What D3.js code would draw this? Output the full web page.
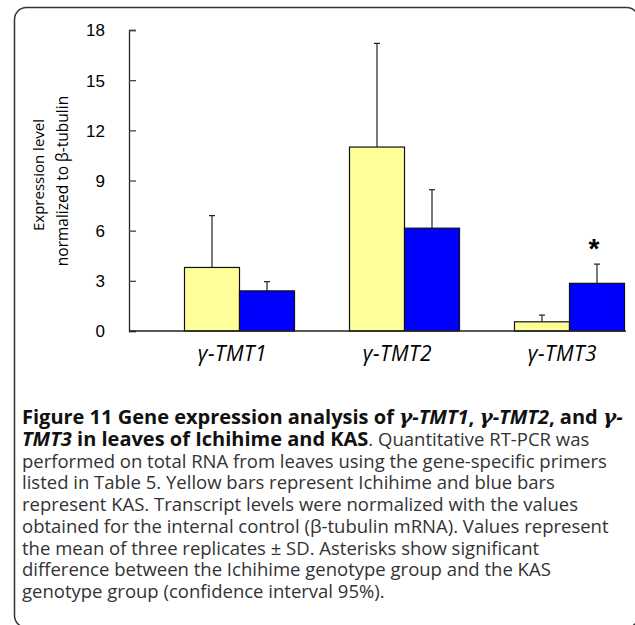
<!DOCTYPE html>
<html>
<head>
<meta charset="utf-8">
<script src="https://cdn.jsdelivr.net/npm/d3@7"></script>
<style>
  body { margin: 0; background: #fff; }
  svg { display: block; }
</style>
</head>
<body>
<div id="chart"></div>
<script>
// data
var genes = ["γ-TMT1", "γ-TMT2", "γ-TMT3"];
var series = ["Ichihime", "KAS"];
var ichihime = [3.8, 11.0, 0.55];
var ichihimeSD = [3.1, 6.2, 0.4];
var kas = [2.4, 6.15, 2.85];
var kasSD = [0.55, 2.3, 1.15];
var significant = [false, false, true];
var yTicks = [0, 3, 6, 9, 12, 15, 18];

var colors = { Ichihime: "#ffff99", KAS: "#0000ff" };

var W = 635, H = 625;

var svg = d3.select("#chart")
  .append("svg")
    .attr("width", W)
    .attr("height", H);

// frame round the figure (right and bottom run off the picture)
svg.append("rect")
  .attr("x", 14.5)
  .attr("y", 7.5)
  .attr("width", 624)
  .attr("height", 620)
  .attr("rx", 12)
  .attr("fill", "none")
  .attr("stroke", "#333")
  .attr("stroke-width", 1.5);

var axisX = 129;

var y = d3.scaleLinear()
  .domain([0, 18])
  .range([331, 30]);

var x0 = d3.scaleBand()
  .domain(genes)
  .range([157, 652]);

var x1 = d3.scaleBand()
  .domain(series)
  .range([0, x0.bandwidth()])
  .paddingOuter(0.5);

var rows = genes.map(function(g, i) {
  return {
    gene: g,
    values: [
      { key: "Ichihime", v: ichihime[i], sd: ichihimeSD[i] },
      { key: "KAS", v: kas[i], sd: kasSD[i] }
    ],
    sig: significant[i]
  };
});

// y axis, ticks pointing inward
var yAxis = svg.append("g")
  .attr("transform", "translate(" + axisX + ",0)")
  .call(d3.axisRight(y).tickValues(yTicks).tickSize(7).tickFormat(""));
yAxis.select(".domain").attr("stroke", "#222").attr("stroke-width", 1.3);
yAxis.selectAll(".tick line").attr("stroke", "#444").attr("stroke-width", 1.3);

yAxis.selectAll(".tick")
  .append("text")
    .attr("x", -24)
    .attr("dy", "0.35em")
    .attr("text-anchor", "end")
    .attr("fill", "#000")
    .style("font-family", "'Liberation Sans', Arial, sans-serif")
    .style("font-size", "17px")
    .text(function(d) { return d; });

// y title, two lines
var ytFont = "'Open Sans', sans-serif";
svg.append("text")
  .attr("transform", "translate(44,175) rotate(-90)")
  .attr("text-anchor", "middle")
  .style("font-family", ytFont)
  .style("font-size", "15px")
  .attr("fill", "#000")
  .text("Expression level");
svg.append("text")
  .attr("transform", "translate(68,181) rotate(-90)")
  .attr("text-anchor", "middle")
  .style("font-family", ytFont)
  .style("font-size", "15.5px")
  .attr("fill", "#000")
  .text("normalized to β-tubulin");

// groups of bars
var grp = svg.selectAll(".grp")
  .data(rows)
  .enter().append("g")
    .attr("class", "grp")
    .attr("transform", function(d) { return "translate(" + x0(d.gene) + ",0)"; });

// error bars (upper only)
grp.selectAll(".err")
  .data(function(d) { return d.values; })
  .enter().append("g")
    .attr("class", "err")
    .each(function(d) {
      var cx = x1(d.key) + x1.bandwidth() / 2;
      var g = d3.select(this);
      g.append("line")
        .attr("x1", cx).attr("x2", cx)
        .attr("y1", y(d.v)).attr("y2", y(d.v + d.sd))
        .attr("stroke", "#222").attr("stroke-width", 1.2);
      g.append("line")
        .attr("x1", cx - 3).attr("x2", cx + 3)
        .attr("y1", y(d.v + d.sd)).attr("y2", y(d.v + d.sd))
        .attr("stroke", "#222").attr("stroke-width", 1.2);
    });

grp.selectAll("rect")
  .data(function(d) { return d.values; })
  .enter().append("rect")
    .attr("x", function(d) { return x1(d.key); })
    .attr("y", function(d) { return y(d.v); })
    .attr("width", x1.bandwidth())
    .attr("height", function(d) { return y(0) - y(d.v); })
    .attr("fill", function(d) { return colors[d.key]; })
    .attr("stroke", "#111")
    .attr("stroke-width", 1.2);

// asterisk over the significant KAS bar
grp.filter(function(d) { return d.sig; })
  .append("text")
    .attr("x", x1("KAS") + x1.bandwidth() / 2 - 3)
    .attr("y", function(d) { return y(d.values[1].v + d.values[1].sd) - 6; })
    .attr("text-anchor", "middle")
    .style("font-family", "'Liberation Sans', Arial, sans-serif")
    .style("font-size", "28px")
    .style("font-weight", "bold")
    .attr("fill", "#000")
    .text("*");

// baseline
svg.append("line")
  .attr("x1", axisX).attr("x2", 626)
  .attr("y1", y(0)).attr("y2", y(0))
  .attr("stroke", "#222")
  .attr("stroke-width", 1.3);

// category labels
grp.append("text")
  .attr("x", x0.bandwidth() / 2 - 7)
  .attr("y", 361)
  .attr("text-anchor", "middle")
  .style("font-family", "'Open Sans', sans-serif")
  .style("font-size", "21px")
  .style("font-style", "italic")
  .style("letter-spacing", "0.5px")
  .attr("fill", "#000")
  .text(function(d) { return d.gene; });

// caption
var cap = svg.append("g")
  .style("font-family", "'Open Sans', sans-serif")
  .style("font-size", "18.5px");

var capX = 22, capY0 = 424, capStep = 21.75;
var boldSize = "20px";
var greek = "'DejaVu Serif', 'Liberation Serif', serif";

var l1 = cap.append("text").attr("x", capX).attr("y", capY0)
  .attr("fill", "#111").style("font-weight", "bold").style("font-size", boldSize);
l1.append("tspan").text("Figure 11 Gene expression analysis of ");
l1.append("tspan").style("font-style", "italic").style("font-family", greek).text("γ");
l1.append("tspan").style("font-style", "italic").text("-TMT1");
l1.append("tspan").text(", ");
l1.append("tspan").style("font-style", "italic").style("font-family", greek).text("γ");
l1.append("tspan").style("font-style", "italic").text("-TMT2");
l1.append("tspan").text(", and ");
l1.append("tspan").style("font-style", "italic").style("font-family", greek).text("γ");
l1.append("tspan").style("font-style", "italic").text("-");

var l2 = cap.append("text").attr("x", capX).attr("y", capY0 + capStep);
l2.append("tspan").attr("fill", "#111").style("font-weight", "bold").style("font-size", boldSize)
  .style("font-style", "italic").text("TMT3");
l2.append("tspan").attr("fill", "#111").style("font-weight", "bold").style("font-size", boldSize)
  .text(" in leaves of Ichihime and KAS");
l2.append("tspan").attr("fill", "#333").text(". Quantitative RT-PCR was");

var plain = [
  "performed on total RNA from leaves using the gene-specific primers",
  "listed in Table 5. Yellow bars represent Ichihime and blue bars",
  "represent KAS. Transcript levels were normalized with the values",
  "obtained for the internal control (β-tubulin mRNA). Values represent",
  "the mean of three replicates ± SD. Asterisks show significant",
  "difference between the Ichihime genotype group and the KAS",
  "genotype group (confidence interval 95%)."
];
cap.selectAll(".pl")
  .data(plain)
  .enter().append("text")
    .attr("class", "pl")
    .attr("x", capX)
    .attr("y", function(d, i) { return capY0 + capStep * (i + 2); })
    .attr("fill", "#333")
    .text(function(d) { return d; });
</script>
</body>
</html>
